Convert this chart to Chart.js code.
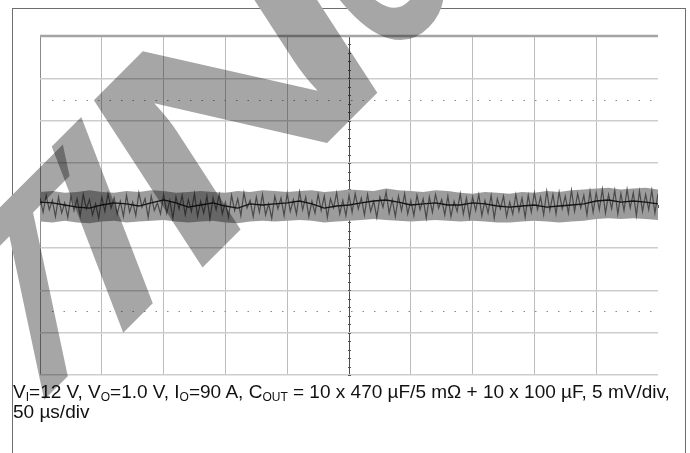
<!DOCTYPE html>
<html>
<head>
<meta charset="utf-8">
<script src="https://cdn.jsdelivr.net/npm/chart.js@4/dist/chart.umd.min.js"></script>
<style>
  html, body { margin: 0; padding: 0; background: #fff; }
  #wrap { position: relative; width: 690px; height: 453px; overflow: hidden; }
  #frame { position: absolute; left: 12px; top: 8px; width: 672px; height: 460px;
           border: 1px solid #6e6e6e; border-bottom: none; }
  #js--scope { position: absolute; left: 0; top: 0; }
  #cap { position: absolute; left: 13px; top: 383px; width: 668px;
         font-family: "Liberation Sans", Arial, sans-serif; font-size: 19px;
         line-height: 18px; color: #111; }
  #cap sub { font-size: 12px; vertical-align: baseline; position: relative; top: 3px; }
</style>
</head>
<body>
<div id="wrap">
  <div id="frame"></div>
  <canvas id="js--scope" width="690" height="453"></canvas>
  <div id="cap">V<sub>I</sub>=12 V, V<sub>O</sub>=1.0 V, I<sub>O</sub>=90 A, C<sub>OUT</sub> = 10 x 470 µF/5 mΩ + 10 x 100 µF, 5 mV/div, 50 µs/div</div>
</div>
<script>
// scope settings: 50 us/div x 10 div, 5 mV/div x 8 div
const timeRange = [0, 500];
const voltRange = [-20, 20];
const timePerDiv = 50;
const voltPerDiv = 5;
const markerLevels = [12.5, -12.5];

// averaged trace, every 10 us (mV)
const envStepUs = 10;
const meanTrace = [0.41,0.30,0.06,-0.18,-0.30,0.06,0.30,0.18,-0.06,0.30,
    0.65,0.30,-0.18,0.06,0.30,-0.06,-0.30,0.18,0.06,0.18,
    0.30,0.53,0.18,-0.30,-0.06,0.06,0.30,0.53,0.65,0.41,
    0.06,0.18,0.30,0.06,0.06,0.30,0.18,-0.06,-0.18,-0.06,
    0.06,-0.18,-0.06,0.06,0.18,0.53,0.65,0.41,0.53,0.41,0.18];

// noise band envelope (mV)
const bandHigh = [1.6,1.7,1.5,1.6,1.8,1.6,1.5,1.7,1.6,1.8,1.7,1.5,1.6,1.7,1.6,1.5,1.7,1.6,1.8,1.7,
    1.6,1.7,1.8,1.6,1.7,1.9,1.8,1.7,2.0,1.8,1.7,1.6,1.8,1.7,1.5,1.4,1.6,1.5,1.4,1.6,
    1.5,1.7,1.6,1.8,1.9,2.0,2.1,1.9,2.0,2.1,1.9];
const bandLow = [-1.9,-2.0,-1.8,-2.0,-2.1,-1.9,-1.8,-2.0,-1.9,-1.8,-1.7,-1.9,-2.0,-1.9,-1.8,-2.0,-2.1,-1.9,-1.8,-1.9,
    -1.8,-1.7,-1.8,-2.0,-1.9,-1.8,-1.7,-1.6,-1.7,-1.8,-1.9,-1.8,-1.7,-1.8,-1.9,-1.8,-1.9,-2.0,-2.0,-1.9,
    -1.8,-1.9,-2.0,-1.9,-1.8,-1.6,-1.5,-1.6,-1.5,-1.6,-1.7];

// raw noisy trace, every 2.5 us (mV)
const rawStepUs = 2.5;
const rawTrace = [0.9,-0.8,1.2,-0.5,0.6,-1.3,1.0,-0.9,0.3,-1.4,1.1,-0.6,0.8,-1.2,1.3,-0.4,0.7,-1.1,0.2,-1.5,
    1.0,-0.7,1.4,-0.3,0.9,-1.0,0.5,-1.3,1.2,-0.8,0.4,-1.2,1.5,-0.2,0.8,-1.4,1.1,-0.6,0.3,-1.0,
    1.3,-0.9,0.6,-1.5,1.0,-0.4,1.2,-1.1,0.7,-0.7,1.4,-1.3,0.5,-0.9,1.1,-1.6,0.9,-0.5,1.3,-1.0,
    0.4,-1.4,1.2,-0.6,0.8,-1.2,1.5,-0.3,0.6,-1.3,1.0,-0.8,1.3,-1.1,0.2,-1.5,1.1,-0.4,0.9,-1.2,
    1.4,-0.7,0.7,-1.0,1.6,-0.5,1.0,-1.3,0.5,-0.9,1.3,-0.6,1.1,-1.4,0.8,-0.3,1.5,-1.0,0.6,-1.2,
    1.2,-0.8,1.4,-0.4,0.9,-1.1,1.3,-0.7,0.5,-1.4,1.0,-0.2,1.6,-0.9,0.7,-1.3,1.1,-0.6,1.4,-1.0,
    0.6,-1.2,1.2,-0.5,0.8,-1.5,1.0,-0.8,1.3,-0.3,0.7,-1.1,1.1,-1.3,0.5,-0.7,1.4,-1.0,0.9,-1.4,
    1.0,-0.6,1.3,-1.2,0.6,-0.9,1.2,-1.5,0.8,-0.4,1.1,-1.3,0.4,-1.0,1.3,-0.7,0.9,-1.4,1.2,-0.8,
    1.5,-0.5,1.0,-1.1,1.7,-0.6,1.3,-1.0,1.6,-0.4,1.1,-0.9,1.8,-0.7,1.4,-0.3,1.2,-1.1,1.7,-0.8,
    1.5,-0.5,1.9,-0.9,1.3,-0.4,1.8,-1.0,1.4,-0.6,1.9,-0.3,1.5,-1.2,1.7,-0.7,1.3,-0.5,1.8,-0.9,1.4];

const toPoints = (arr, step) => arr.map((v, i) => ({x: i * step, y: v}));

// extra scope graticule bits + watermark
const scopeExtras = {
    id: 'scopeExtras',
    beforeDatasetsDraw(chart) {
        const ctx = chart.ctx, xs = chart.scales.x, ys = chart.scales.y;
        const a = chart.chartArea;
        ctx.save();
        // dotted marker lines
        ctx.strokeStyle = '#8a8a8a';
        ctx.lineWidth = 1;
        ctx.setLineDash([1.5, 10]);
        markerLevels.forEach(v => {
            const y = Math.round(ys.getPixelForValue(v)) + 0.5;
            ctx.beginPath(); ctx.moveTo(a.left + 12, y); ctx.lineTo(a.right, y); ctx.stroke();
        });
        ctx.setLineDash([]);
        // minor ticks on centre lines
        ctx.strokeStyle = '#555';
        const cx = Math.round(xs.getPixelForValue((timeRange[0] + timeRange[1]) / 2)) + 0.5;
        for (let v = voltRange[0]; v <= voltRange[1]; v += voltPerDiv / 5) {
            const y = Math.round(ys.getPixelForValue(v)) + 0.5;
            ctx.beginPath(); ctx.moveTo(cx - 1.5, y); ctx.lineTo(cx + 1.5, y); ctx.stroke();
        }
        const cy = Math.round(ys.getPixelForValue(0)) + 0.5;
        for (let t = timeRange[0]; t <= timeRange[1]; t += timePerDiv / 5) {
            const x = Math.round(xs.getPixelForValue(t)) + 0.5;
            ctx.beginPath(); ctx.moveTo(x, cy - 1.5); ctx.lineTo(x, cy + 1.5); ctx.stroke();
        }
        // heavier top edge
        ctx.strokeStyle = '#a4a4a4';
        ctx.lineWidth = 2.5;
        ctx.beginPath(); ctx.moveTo(a.left, a.top); ctx.lineTo(a.right, a.top); ctx.stroke();
        ctx.restore();
    },
    afterDraw(chart) {
        const ctx = chart.ctx;
        // watermark letters: char, base x, base y, tilt (deg), x-stretch
        const letters = [['T', 56, 388, 12, 0.8], ['I', 138, 318, 21, 1],
                         ['N', 290, 180, 33, 1.45], ['U', 428, 24, 40, 0.6]];
        ctx.save();
        ctx.globalCompositeOperation = 'multiply';
        ctx.fillStyle = '#a6a6a6';
        ctx.font = 'bold 290px "Liberation Sans"';
        ctx.textAlign = 'center';
        ctx.textBaseline = 'alphabetic';
        const u = [Math.SQRT1_2, -Math.SQRT1_2];
        letters.forEach(([ch, px, py, tilt, sx]) => {
            const r = tilt * Math.PI / 180;
            ctx.setTransform(u[0] * sx, u[1] * sx, Math.sin(r), Math.cos(r), px, py);
            ctx.fillText(ch, 0, 0);
        });
        ctx.restore();
    }
};

const data = {
    datasets: [
        {
            label: 'mean',
            data: toPoints(meanTrace, envStepUs),
            borderColor: '#151515',
            borderWidth: 1.3,
            pointRadius: 0,
            order: 0
        },
        {
            label: 'raw',
            data: toPoints(rawTrace, rawStepUs),
            borderColor: '#4a4a4a',
            borderWidth: 1.2,
            pointRadius: 0,
            order: 1
        },
        {
            label: 'low',
            data: toPoints(bandLow, envStepUs),
            borderColor: 'rgba(0,0,0,0)',
            pointRadius: 0,
            fill: false,
            order: 3
        },
        {
            label: 'high',
            data: toPoints(bandHigh, envStepUs),
            borderColor: 'rgba(0,0,0,0)',
            backgroundColor: '#9c9c9c',
            pointRadius: 0,
            fill: '-1',
            order: 2
        }
    ]
};

const config = {
    type: 'line',
    data: data,
    options: {
        responsive: false,
        animation: false,
        events: [],
        layout: { padding: { left: 40, top: 36, right: 32, bottom: 78 } },
        plugins: { legend: { display: false }, tooltip: { enabled: false } },
        scales: {
            x: {
                type: 'linear',
                min: timeRange[0], max: timeRange[1],
                ticks: { display: false, stepSize: timePerDiv },
                border: { display: false },
                grid: {
                    drawTicks: false,
                    color: c => c.tick.value === 250 ? '#4a4a4a' : c.tick.value === 0 ? '#8a8a8a' : c.tick.value === 500 ? 'rgba(0,0,0,0)' : '#bcbcbc',
                    lineWidth: 1
                }
            },
            y: {
                min: voltRange[0], max: voltRange[1],
                ticks: { display: false, stepSize: voltPerDiv },
                border: { display: false },
                grid: {
                    drawTicks: false,
                    color: c => c.tick.value === 0 ? '#6a6a6a' : '#cdcdcd',
                    lineWidth: 1.5
                }
            }
        }
    },
    plugins: [scopeExtras]
};

new Chart(document.getElementById('js--scope'), config);
</script>
</body>
</html>
